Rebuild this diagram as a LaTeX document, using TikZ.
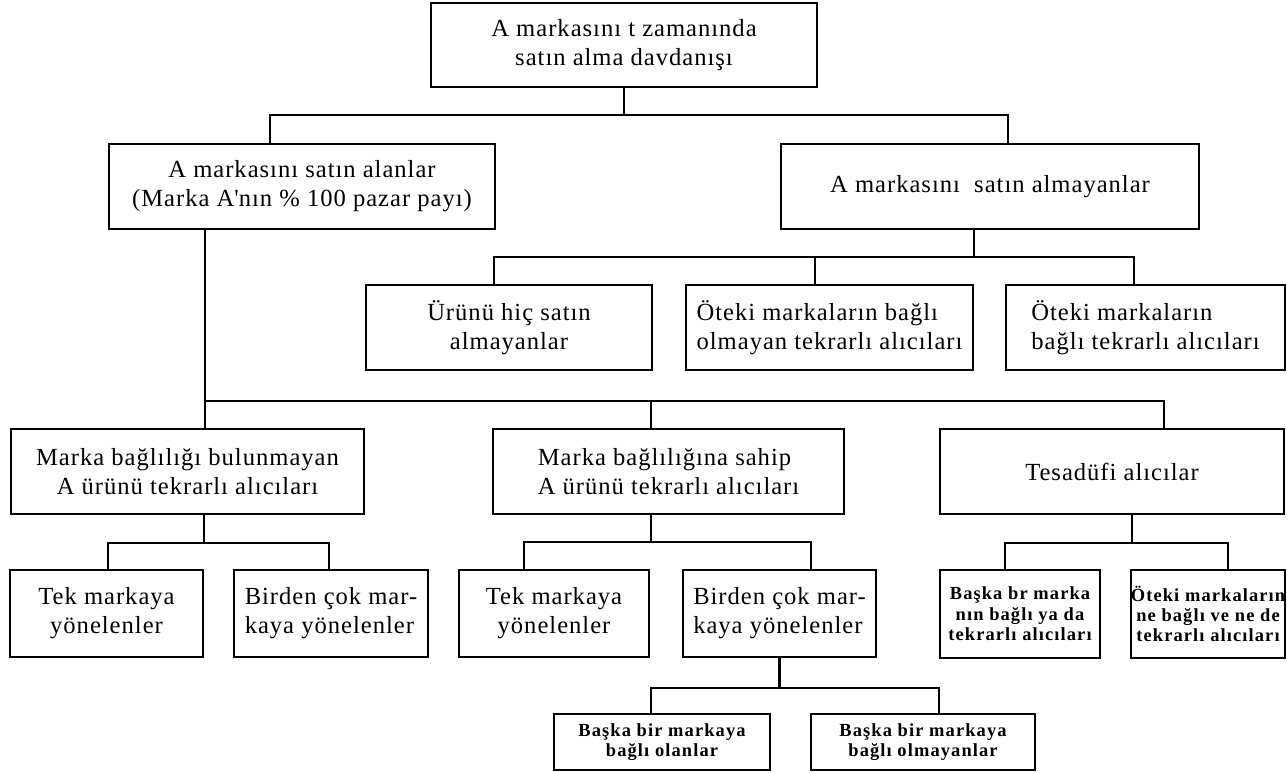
\documentclass[tikz,border=0pt]{standalone}
\usepackage{fontspec}
\setmainfont{Liberation Serif}[LetterSpace=4]
\newfontfamily\smallface{Liberation Serif}[LetterSpace=6]
\newcommand\bigtext{\fontsize{14}{16.5}\selectfont}
\newcommand\smalltext{\fontsize{10.5}{11.6}\selectfont\smallface\bfseries}

\begin{document}
\begin{tikzpicture}[x=0.02cm, y=-0.02cm, line width=1.3pt,
    entry/.style={draw, inner sep=0pt, font=\bigtext, minimum height=1.7cm},
    smallentry/.style={draw, inner sep=0pt, font=\smalltext}]
    \useasboundingbox (0,0) rectangle (1287,773);

    % Top
    \node[entry, align=center, minimum width=7.72cm, minimum height=1.68cm] (root) at (624,45) {A markasını t zamanında\\satın alma davdanışı};

    % Buyers / non-buyers
    \node[entry, align=center, minimum width=7.72cm] (buyers) at (302,186.5) {A markasını satın alanlar\\(Marka A\textquotesingle nın \% 100 pazar payı)};
    \node[entry, minimum width=8.36cm] (nonbuyers) at (990,186.5) {A markasını\ \ satın almayanlar};

    % Non-buyers
    \node[entry, align=center, minimum width=5.72cm] (never) at (509,327.5) {Ürünü hiç satın\\almayanlar};
    \node[entry, align=left, minimum width=5.74cm] (otherNonLoyal) at (829.5,327.5) {Öteki markaların bağlı\\olmayan tekrarlı alıcıları};
    \node[entry, align=left, minimum width=5.58cm] (otherLoyal) at (1145.5,327.5) {Öteki markaların\\bağlı tekrarlı alıcıları};

    % Buyers
    \node[entry, align=center, minimum width=7.06cm] (nonLoyalA) at (187.5,471.5) {Marka bağlılığı bulunmayan\\A ürünü tekrarlı alıcıları};
    \node[entry, align=left, minimum width=7.02cm] (loyalA) at (668.5,471.5) {Marka bağlılığına sahip\\A ürünü tekrarlı alıcıları};
    \node[entry, minimum width=6.88cm] (random) at (1112,471.5) {Tesadüfi alıcılar};

    % Repeat buyers
    \node[entry, align=center, minimum width=3.86cm, minimum height=1.74cm] (single1) at (106.5,613.5) {Tek markaya\\yönelenler};
    \node[entry, align=left, minimum width=3.88cm, minimum height=1.74cm] (multi1) at (331,613.5) {Birden çok mar-\\kaya yönelenler};
    \node[entry, align=center, minimum width=3.8cm, minimum height=1.74cm] (single2) at (554,613.5) {Tek markaya\\yönelenler};
    \node[entry, align=left, minimum width=3.86cm, minimum height=1.74cm] (multi2) at (779.5,613.5) {Birden çok mar-\\kaya yönelenler};

    % Random buyers
    \node[smallentry, align=center, minimum width=3.2cm, minimum height=1.76cm] (randLoyal) at (1020,614) {Başka br marka\\nın bağlı ya da\\tekrarlı alıcıları};
    \node[smallentry, align=center, minimum width=3.08cm, minimum height=1.76cm] (randNeither) at (1208,614) {Öteki markaların\\ne bağlı ve ne de\\tekrarlı alıcıları};

    % Multi-brand
    \node[smallentry, align=center, minimum width=4.32cm, minimum height=1.12cm] (loyalOther) at (662,742) {Başka bir markaya\\bağlı olanlar};
    \node[smallentry, align=center, minimum width=4.48cm, minimum height=1.12cm] (notLoyalOther) at (923,742) {Başka bir markaya\\bağlı olmayanlar};

    % Connectors: top
    \coordinate (a1) at (270,115);
    \coordinate (a2) at (1008,115);
    \draw (root.south) -- (root.south |- a1);
    \draw (a1 |- buyers.north) -- (a1) -- (a2) -- (a2 |- nonbuyers.north);

    % Connectors: non-buyers
    \coordinate (b0) at (974,257);
    \coordinate (b1) at (494,257);
    \coordinate (b2) at (815,257);
    \coordinate (b3) at (1134,257);
    \draw (b0 |- nonbuyers.south) -- (b0);
    \draw (b1 |- never.north) -- (b1) -- (b3) -- (b3 |- otherLoyal.north);
    \draw (b2) -- (b2 |- otherNonLoyal.north);

    % Connectors: buyers
    \coordinate (c1) at (205,401);
    \coordinate (c2) at (651,401);
    \coordinate (c3) at (1164,401);
    \draw (c1 |- buyers.south) -- (c1 |- nonLoyalA.north);
    \draw (c1) -- (c3) -- (c3 |- random.north);
    \draw (c2) -- (c2 |- loyalA.north);

    % Connectors: no brand loyalty
    \coordinate (d0) at (204,543);
    \coordinate (d1) at (108,543);
    \coordinate (d2) at (329,543);
    \draw (d0 |- nonLoyalA.south) -- (d0);
    \draw (d1 |- single1.north) -- (d1) -- (d2) -- (d2 |- multi1.north);

    % Connectors: brand loyalty
    \coordinate (e1) at (524,542);
    \coordinate (e2) at (811,542);
    \draw (c2 |- loyalA.south) -- (c2 |- e1);
    \draw (e1 |- single2.north) -- (e1) -- (e2) -- (e2 |- multi2.north);

    % Connectors: random
    \coordinate (f0) at (1132,543);
    \coordinate (f1) at (1005,543);
    \coordinate (f2) at (1228,543);
    \draw (f0 |- random.south) -- (f0);
    \draw (f1 |- randLoyal.north) -- (f1) -- (f2) -- (f2 |- randNeither.north);

    % Connectors: multi-brand
    \coordinate (g1) at (651,688);
    \coordinate (g2) at (939,688);
    \draw (multi2.south) -- (multi2.south |- g1);
    \draw (g1 |- loyalOther.north) -- (g1) -- (g2) -- (g2 |- notLoyalOther.north);
\end{tikzpicture}
\end{document}
